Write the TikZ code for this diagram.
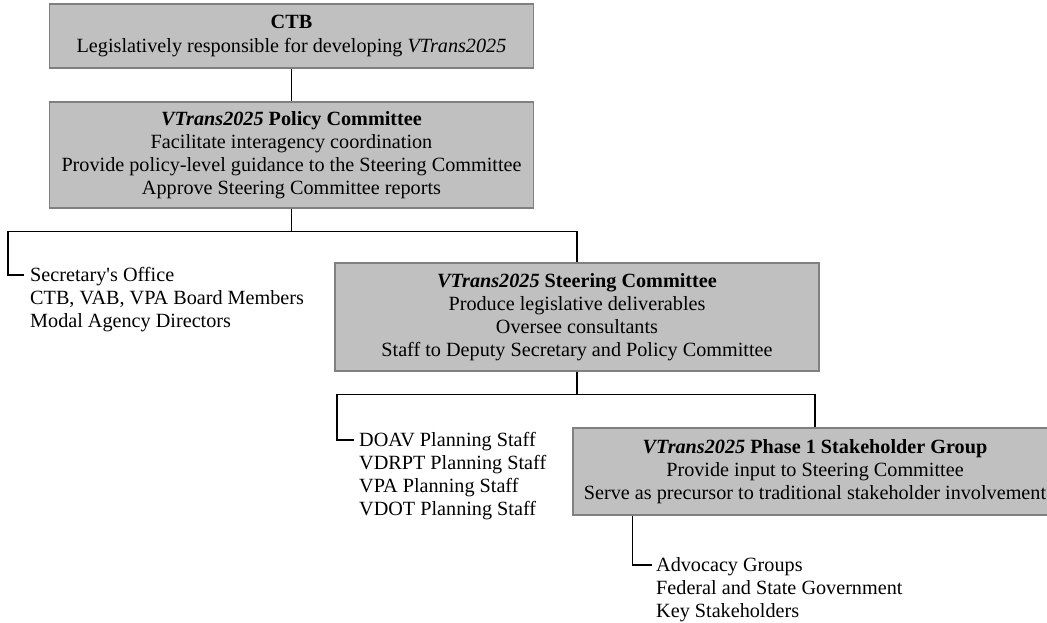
\documentclass[tikz,border=0pt]{standalone}
\usepackage{fontspec}
\setmainfont{Liberation Serif}
\usetikzlibrary{calc}
\definecolor{boxfill}{RGB}{192,192,192}
\definecolor{boxedge}{RGB}{128,128,128}
\newcommand\chartfont{\fontsize{20.2}{23.1}\selectfont}
\begin{document}
\begin{tikzpicture}[x=1pt,y=-1pt,
  box/.style={draw=boxedge, fill=boxfill, line width=1.4pt, inner sep=0pt, align=center, font=\chartfont, minimum width=484pt},
  lst/.style={inner sep=0pt, align=left, anchor=north west, font=\chartfont},
  conn/.style={draw=black, line width=1.4pt}]
\useasboundingbox (0,0) rectangle (1047,622);
\clip (0,0) rectangle (1047,622);
% boxes
\node[box, minimum height=64pt] (ctb) at (291.5,36)
  {\textbf{CTB}\\Legislatively responsible for developing \textit{VTrans2025}};
\node[box, minimum height=106pt] (policy) at (291.5,155)
  {\textbf{\textit{VTrans2025} Policy Committee}\\Facilitate interagency coordination\\Provide policy-level guidance to the Steering Committee\\Approve Steering Committee reports};
\node[box, minimum height=108pt] (steer) at (577,317)
  {\textbf{\textit{VTrans2025} Steering Committee}\\Produce legislative deliverables\\Oversee consultants\\Staff to Deputy Secretary and Policy Committee};
\node[box, minimum height=87pt] (stake) at (815,471.5)
  {\textbf{\textit{VTrans2025} Phase 1 Stakeholder Group}\\Provide input to Steering Committee\\Serve as precursor to traditional stakeholder involvement};
% lists
\node[lst] (sec) at (30,267) {Secretary\textquotesingle s Office\\CTB, VAB, VPA Board Members\\Modal Agency Directors};
\node[lst] (staff) at (359,432) {DOAV Planning Staff\\VDRPT Planning Staff\\VPA Planning Staff\\VDOT Planning Staff};
\node[lst] (adv) at (656,557) {Advocacy Groups\\Federal and State Government\\Key Stakeholders};
\coordinate (secpin) at ($(sec.north west)+(-6,8)$);
\coordinate (staffpin) at ($(staff.north west)+(-5,8)$);
\coordinate (advpin) at ($(adv.north west)+(-4,8)$);
\coordinate (advtop) at ($(stake.south west)+(60,0)$);
% connectors
\draw[conn] (ctb.south) -- (policy.north);
\draw[conn] (policy.south) -- ++(0,23) -| (steer.north);
\draw[conn] (policy.south) -- ++(0,23) -| ($(secpin)+(-16,0)$) -- (secpin);
\draw[conn] (steer.south) -- ++(0,23) -| (stake.north);
\draw[conn] (steer.south) -- ++(0,23) -| ($(staffpin)+(-17,0)$) -- (staffpin);
\draw[conn] (advtop) |- (advpin);
\end{tikzpicture}
\end{document}
